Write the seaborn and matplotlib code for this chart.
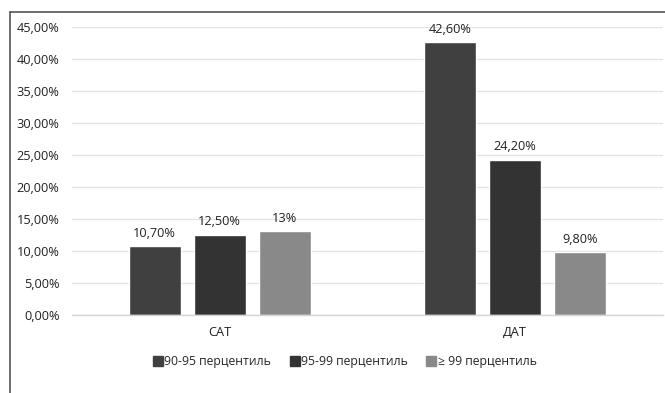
import matplotlib
matplotlib.use("Agg")
import matplotlib.pyplot as plt
import seaborn as sns
import pandas as pd
from matplotlib.ticker import FuncFormatter, MultipleLocator
from matplotlib.lines import Line2D

categories = ["САТ", "ДАТ"]
series_names = ["90-95 перцентиль", "95-99 перцентиль", "≥ 99 перцентиль"]
values_p90_95 = [10.7, 42.6]
values_p95_99 = [12.5, 24.2]
values_p99 = [13.0, 9.8]
value_labels = [["10,70%", "42,60%"], ["12,50%", "24,20%"], ["13%", "9,80%"]]
colors = ["#404040", "#333333", "#898989"]

rows = []
for name, vals in zip(series_names, [values_p90_95, values_p95_99, values_p99]):
    for cat, v in zip(categories, vals):
        rows.append({"category": cat, "series": name, "value": v})
df = pd.DataFrame(rows)

sns.set_theme(style="white")
plt.rcParams["font.family"] = ["Open Sans", "DejaVu Sans"]
FS = 9.2

fig = plt.figure(figsize=(6.65, 3.93), dpi=100)
ax = fig.add_axes([72 / 665, 1 - 314.5 / 393, 591 / 665, 288 / 393])

sns.barplot(data=df, x="category", y="value", hue="series", order=categories,
            hue_order=series_names, palette=colors, width=0.66, gap=0.2,
            saturation=1, legend=False, ax=ax, err_kws={"linewidth": 0})

ax.set_xlim(-0.5, 1.5)
ax.set_ylim(0, 45)
ax.yaxis.set_major_locator(MultipleLocator(5))
ax.yaxis.set_major_formatter(FuncFormatter(lambda v, p: f"{v:.2f}".replace(".", ",") + "%"))
ax.grid(axis="y", color="#e4e4e4", linewidth=1)
ax.set_axisbelow(True)
for s in ["top", "right", "left"]:
    ax.spines[s].set_visible(False)
ax.spines["bottom"].set_color("#d4d4d4")
ax.spines["bottom"].set_linewidth(1)
ax.set_xlabel("")
ax.set_ylabel("")
ax.tick_params(axis="y", length=0, pad=9, labelsize=FS, labelcolor="#222222")
ax.tick_params(axis="x", length=0, pad=8, labelsize=FS, labelcolor="#222222")

for container, labels in zip(ax.containers, value_labels):
    ax.bar_label(container, labels=labels, padding=4.5, fontsize=FS, color="#222222")

handles = [Line2D([], [], marker="s", linestyle="none", markersize=6.5,
                  markerfacecolor=c, markeredgecolor=c) for c in colors]
fig.legend(handles, series_names, loc="center", bbox_to_anchor=(345 / 665, 1 - 362 / 393),
           ncol=3, frameon=False, fontsize=8.8, handletextpad=0.15, columnspacing=1.5,
           handlelength=0.8)

# outer frame lines (top and left)
fig.add_artist(Line2D([10 / 665, 1], [1 - 11.5 / 393, 1 - 11.5 / 393], color="#555555", linewidth=1.2))
fig.add_artist(Line2D([10 / 665, 10 / 665], [0, 1 - 11.5 / 393], color="#555555", linewidth=1.2))

fig.savefig("out.png", dpi=100)
